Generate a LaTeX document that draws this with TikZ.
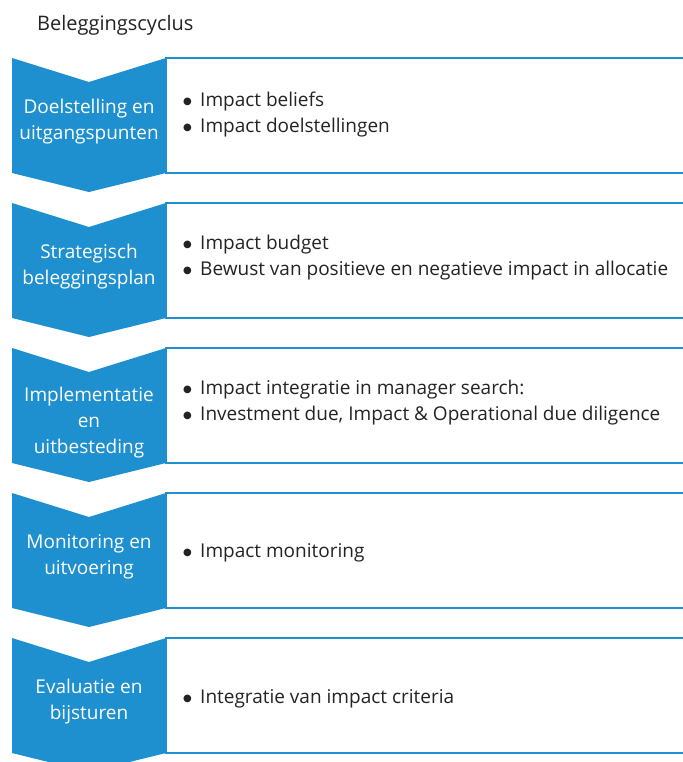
\documentclass[tikz,border=0pt]{standalone}
\usepackage{fontspec}
\setmainfont{Open Sans}
\newfontfamily\symbolfont{DejaVu Sans}
\definecolor{cyclusblue}{RGB}{30,144,207}
\definecolor{textgrey}{RGB}{35,35,35}
\newcommand{\bul}{\makebox[17pt][l]{\raisebox{2.2pt}{\symbolfont\fontsize{10}{10}\selectfont ●}}}

\begin{document}
\begin{tikzpicture}[x=1pt,y=-1pt]

    \tikzset{
      stap/.style={
        fill=cyclusblue,
        draw=none,
      },
      staptekst/.style={
        text=white,
        align=center,
        inner sep=0pt,
        font=\fontsize{19}{26}\selectfont,
      },
      kader/.style={
        draw=cyclusblue,
        line width=2pt,
      },
      punten/.style={
        text=textgrey,
        align=left,
        anchor=west,
        inner sep=0pt,
        font=\fontsize{19}{26}\selectfont,
      },
    }
    \useasboundingbox (0,0) rectangle (682,762);
    \node[anchor=base west, inner sep=0pt, text=textgrey,
      font=\fontsize{20}{24}\selectfont] (titel) at (37,31) {Beleggingscyclus};

    % vijf stappen: pijl links, kader met punten rechts
    \foreach \i/\stap/\dstap/\punt/\dpunt in {
      0/{Doelstelling en\\uitgangspunten}/64/{\bul Impact beliefs\\\bul Impact doelstellingen}/57,
      1/{Strategisch\\beleggingsplan}/64/{\bul Impact budget\\\bul Bewust van positieve en negatieve impact in allocatie}/55,
      2/{Implementatie\\en\\uitbesteding}/75/{\bul Impact integratie in manager search:\\\bul Investment due, Impact \& Operational due diligence}/54.5,
      3/{Monitoring en\\uitvoering}/64/{\bul Impact monitoring}/60,
      4/{Evaluatie en\\bijsturen}/64/{\bul Integratie van impact criteria}/61%
    }{
      \pgfmathsetmacro\ytop{58+145*\i}
      \draw[kader] (166,\ytop) rectangle (690,\ytop+115);
      \fill[stap] (12,\ytop) -- (89,\ytop+24) -- (166,\ytop) -- (166,\ytop+115)
        -- (89,\ytop+134) -- (12,\ytop+115) -- cycle;
      \node[staptekst] (stap\i) at (89,\ytop+\dstap) {\stap};
      \node[punten] (punt\i) at (183,\ytop+\dpunt) {\punt};
    }

\end{tikzpicture}
\end{document}
